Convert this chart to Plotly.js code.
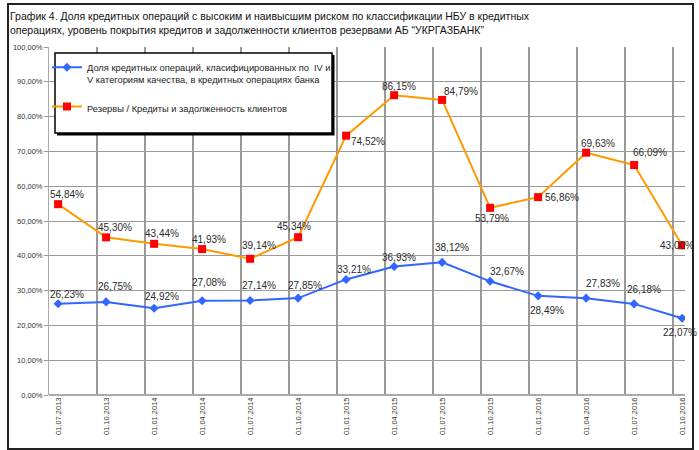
<!DOCTYPE html>
<html>
<head>
<meta charset="utf-8">
<script src="https://cdn.plot.ly/plotly-3.0.1.min.js"></script>
<style>
  html, body { margin: 0; padding: 0; background: #fff; }
  #wrap { position: relative; width: 699px; height: 450px; }
  #chart { width: 699px; height: 450px; }
  #frame { position: absolute; left: 7px; top: 3px; width: 687px; height: 447px; box-sizing: border-box; border: 2px solid #222; pointer-events: none; }
</style>
</head>
<body>
<div id="wrap">
  <div id="chart"></div>
  <div id="frame"></div>
</div>
<script>
// ---- data ----
const dates = ['01.07.2013','01.10.2013','01.01.2014','01.04.2014','01.07.2014','01.10.2014','01.01.2015',
               '01.04.2015','01.07.2015','01.10.2015','01.01.2016','01.04.2016','01.07.2016','01.10.2016'];
const shareHighRisk = [26.23, 26.75, 24.92, 27.08, 27.14, 27.85, 33.21, 36.93, 38.12, 32.67, 28.49, 27.83, 26.18, 22.07];
const reserveCoverage = [54.84, 45.30, 43.44, 41.93, 39.14, 45.34, 74.52, 86.15, 84.79, 53.79, 56.86, 69.63, 66.09, 43.00];
const yTickValues = [0, 10, 20, 30, 40, 50, 60, 70, 80, 90, 100];
const seriesNames = [
  'Доля кредитных операций, класифицированных по  IV и<br>V категориям качества, в кредитных операциях банка',
  'Резервы / Кредиты и задолженность клиентов'
];
const titleText = 'График 4. Доля кредитных операций с высоким и наивысшим риском по классификации НБУ в кредитных<br>операциях, уровень покрытия кредитов и задолженности клиентов резервами АБ “УКРГАЗБАНК”';

// ---- label placement (pixel offsets of value labels, style only) ----
const blueLabelOffset = [[9,-9],[9,-15],[8,-12],[7,-18],[9,-15],[7,-13],[8,-10],[5,-9],[10,-15],[17,-10],[9,15],[17,-15],[10,-14],[-2,14]];
const orangeLabelOffset = [[9,-10],[9,-10],[8,-10],[7,-10],[9,-13],[-4,-11],[22,6],[5,-9],[19,-8],[2,11],[24,0],[12,-9],[16,-13],[-5,0]];

const fmt = v => v.toFixed(2).replace('.', ',') + '%';
const idx = dates.map((d, i) => i);

const traces = [
  {
    x: idx, y: shareHighRisk, name: seriesNames[0], type: 'scatter', mode: 'lines+markers',
    legendgroup: 'a',
    line: { color: '#3366FF', width: 2 },
    marker: { symbol: 'diamond', size: 7, color: '#3366FF' },
    hoverinfo: 'skip'
  },
  {
    x: idx, y: reserveCoverage, name: seriesNames[1], type: 'scatter', mode: 'lines+markers',
    legendgroup: 'b',
    line: { color: '#FF9900', width: 2 },
    marker: { symbol: 'square', size: 8, color: '#FF0000' },
    hoverinfo: 'skip'
  }
];

const labelFont = { family: 'Liberation Sans, Arial, sans-serif', size: 10, color: '#2a2a2a' };
const annotations = [];
shareHighRisk.forEach((v, i) => annotations.push({
  x: i, y: v, text: fmt(v), showarrow: false, font: labelFont,
  xshift: blueLabelOffset[i][0], yshift: -blueLabelOffset[i][1]
}));
reserveCoverage.forEach((v, i) => annotations.push({
  x: i, y: v, text: fmt(v), showarrow: false, font: labelFont,
  xshift: orangeLabelOffset[i][0], yshift: -orangeLabelOffset[i][1]
}));

// vertical grid lines just left of each category
const shapes = [];
dates.forEach((d, i) => {
  if (i === 0) return;
  shapes.push({ type: 'line', xref: 'x', yref: 'paper', x0: i - 0.19, x1: i - 0.19, y0: 0, y1: 1,
    line: { color: '#333', width: 1 }, layer: 'below' });
});
// legend box with shadow
const pw = 636, ph = 348;
const bx0 = (55 - 49) / pw, bx1 = (332 - 49) / pw, by1 = (395 - 53) / ph, by0 = (395 - 133) / ph;
shapes.push({ type: 'rect', xref: 'paper', yref: 'paper', x0: bx0 + 2 / pw, x1: bx1 + 2.5 / pw, y0: by0 - 2.5 / ph, y1: by1 - 2 / ph,
  fillcolor: '#000', line: { width: 0 }, layer: 'above' });
shapes.push({ type: 'rect', xref: 'paper', yref: 'paper', x0: bx0, x1: bx1, y0: by0, y1: by1,
  fillcolor: '#fff', line: { color: '#000', width: 1.5 }, layer: 'above' });

const layout = {
  width: 699, height: 450,
  margin: { l: 49, r: 14, t: 47, b: 55 },
  paper_bgcolor: '#fff', plot_bgcolor: '#fff',
  font: { family: 'Liberation Sans, Arial, sans-serif', color: '#333' },
  title: {
    text: titleText, x: 10 / 699, xanchor: 'left', xref: 'container',
    y: 1 - 20 / 450, yanchor: 'top', yref: 'container',
    font: { family: 'Liberation Sans, Arial, sans-serif', size: 10.5, color: '#111' }
  },
  xaxis: {
    range: [-0.19, 13.06], tickvals: idx, ticktext: dates, tickangle: -90,
    showgrid: false, zeroline: false, showline: false, ticks: '',
    tickfont: { size: 7.5, color: '#333' }, fixedrange: true
  },
  yaxis: {
    range: [0, 100], tickvals: yTickValues, ticktext: yTickValues.map(fmt),
    showgrid: true, gridcolor: '#999', gridwidth: 1,
    zeroline: true, zerolinecolor: '#aaa', zerolinewidth: 2,
    showline: true, linecolor: '#aaa', linewidth: 1,
    ticks: 'outside', ticklen: 4, tickcolor: '#999',
    tickfont: { size: 7.5, color: '#333' }, fixedrange: true
  },
  showlegend: true,
  legend: {
    x: (47 - 49) / pw, y: 0.978, xanchor: 'left', yanchor: 'top',
    bgcolor: 'rgba(0,0,0,0)', borderwidth: 0,
    traceorder: 'grouped', tracegroupgap: 12, valign: 'top',
    font: { family: 'Liberation Sans, Arial, sans-serif', size: 9.3, color: '#222' },
    itemwidth: 30
  },
  annotations: annotations,
  shapes: shapes
};

Plotly.newPlot('chart', traces, layout, { staticPlot: true, displayModeBar: false });
</script>
</body>
</html>
